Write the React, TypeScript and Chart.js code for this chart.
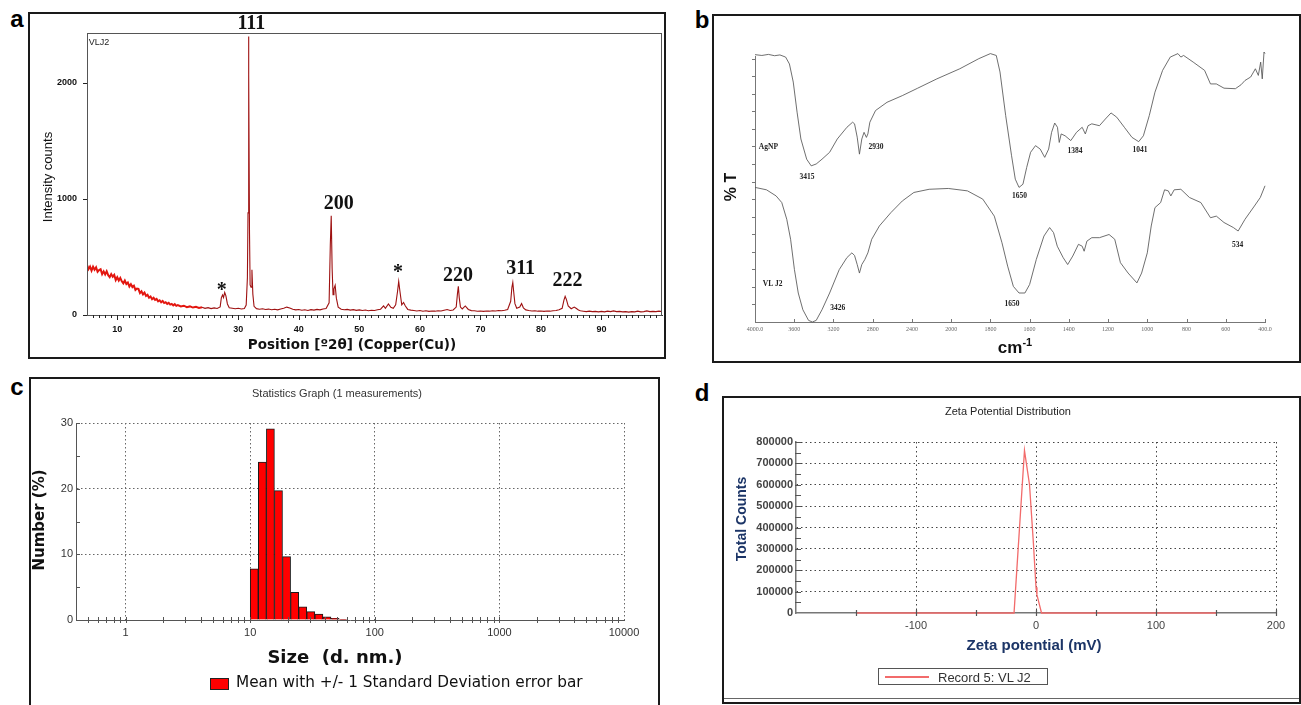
import React, { useEffect, useRef } from 'react';
import { Chart, registerables } from 'chart.js';

Chart.register(...registerables);

const SANS = '"Liberation Sans", Arial, Helvetica, sans-serif';
const SERIF = '"Liberation Serif", "Times New Roman", Times, serif';
const VERD = '"DejaVu Sans", Verdana, sans-serif';

// ---------------- (a) XRD pattern ----------------
const xrdLowAngle: [number, number][] = [
  [5.0, 432], [5.25, 395], [5.5, 417], [5.75, 382], [6.0, 416], [6.25, 390], [6.5, 411], [6.75, 372],
  [7.0, 387], [7.25, 395], [7.5, 352], [7.75, 376], [8.0, 350], [8.25, 377], [8.5, 343], [8.75, 326],
  [9.0, 353], [9.25, 330], [9.5, 346], [9.75, 301], [10.0, 325], [10.25, 297], [10.5, 320], [10.75, 290],
  [11.0, 273], [11.25, 297], [11.5, 267], [11.75, 280], [12.0, 246], [12.25, 266], [12.5, 241], [12.75, 253],
  [13.0, 216], [13.25, 228], [13.5, 225], [13.75, 189], [14.0, 204], [14.25, 177], [14.5, 193], [14.75, 164],
  [15.0, 174], [15.25, 149], [15.5, 159], [15.75, 136], [16.0, 148], [16.25, 130], [16.5, 139], [16.75, 118],
  [17.0, 127], [17.25, 110], [17.5, 121], [17.75, 103], [18.0, 110], [18.25, 96], [18.5, 105], [18.75, 90],
  [19.0, 96], [19.25, 83], [19.5, 93], [19.75, 79], [20.0, 86],
];
const xrdHighAngle: [number, number][] = [
  [20.5, 74], [21, 80], [21.5, 68], [22, 74], [22.5, 64], [23, 70], [23.5, 60], [24, 66], [24.5, 57], [25, 63],
  [25.5, 55], [26, 61], [26.5, 56], [27.0, 70], [27.2, 150], [27.4, 172], [27.55, 150], [27.75, 195], [27.95, 165],
  [28.2, 95], [28.5, 62], [29, 58], [29.5, 54], [30, 58], [30.5, 52], [31, 56], [31.3, 85], [31.5, 320], [31.6, 880],
  [31.68, 2400], [31.75, 2070], [31.85, 700], [31.95, 260], [32.1, 240], [32.25, 390], [32.4, 180], [32.6, 75],
  [33, 55], [33.5, 50], [34, 54], [34.5, 47], [35, 51], [35.5, 45], [36, 50], [36.5, 44], [37, 52], [37.5, 58],
  [38, 68], [38.5, 60], [39, 50], [39.5, 44], [40, 47], [40.5, 41], [41, 45], [41.5, 39], [42, 46], [42.5, 42],
  [43, 48], [43.5, 44], [44, 52], [44.5, 56], [45.0, 105], [45.2, 610], [45.35, 855], [45.5, 400], [45.65, 175],
  [45.8, 225], [46.0, 255], [46.2, 145], [46.5, 68], [47, 50], [47.5, 45], [48, 48], [48.5, 42], [49, 46],
  [49.5, 40], [50, 44], [50.5, 39], [51, 43], [51.5, 37], [52, 41], [52.5, 39], [53, 45], [53.5, 50], [54, 78],
  [54.3, 58], [54.8, 95], [55.2, 66], [55.6, 58], [56.0, 88], [56.3, 200], [56.5, 290], [56.7, 205], [57.0, 88],
  [57.3, 108], [57.6, 78], [58, 48], [58.5, 42], [59, 39], [59.5, 35], [60, 39], [60.5, 33], [61, 37], [61.5, 31],
  [62, 35], [62.5, 33], [63, 37], [63.5, 35], [64, 41], [64.5, 47], [65, 39], [65.5, 43], [66.0, 68], [66.2, 180],
  [66.35, 248], [66.5, 150], [66.7, 68], [67, 52], [67.5, 78], [68, 48], [68.5, 38], [69, 36], [69.5, 32], [70, 35],
  [70.5, 31], [71, 35], [71.5, 33], [72, 37], [72.5, 35], [73, 39], [73.5, 37], [74, 41], [74.5, 48], [75.0, 118],
  [75.2, 238], [75.35, 280], [75.5, 198], [75.7, 98], [76, 58], [76.5, 68], [76.8, 98], [77.1, 62], [77.5, 44],
  [78, 39], [78.5, 35], [79, 37], [79.5, 33], [80, 35], [80.5, 31], [81, 35], [81.5, 33], [82, 37], [82.5, 39],
  [83, 46], [83.5, 58], [83.8, 128], [84.0, 160], [84.2, 135], [84.5, 78], [85, 54], [85.5, 68], [85.8, 58],
  [86.2, 44], [86.5, 37], [87, 33], [87.5, 29], [88, 33], [88.5, 29], [89, 31], [89.5, 27], [90, 31], [90.5, 27],
  [91, 33], [91.5, 29], [92, 35], [92.5, 29], [93, 31], [93.5, 27], [94, 29], [94.5, 25], [95, 29], [95.5, 27],
  [96, 33], [96.5, 27], [97, 29], [97.5, 35], [98, 29], [98.5, 31], [99, 29], [99.5, 33], [100, 29],
];
const xrdThetaLabels = [10, 20, 30, 40, 50, 60, 70, 80, 90];
const xrdCountLabels = [0, 1000, 2000];
const xrdMinorTheta = Array.from({ length: 95 }, (_, i) => i + 5).filter((v) => v % 10 !== 0 && v > 5);
const xrdPeakText = ['111', '200', '*', '*', '220', '311', '222'];
const xrdPeakTheta = [32.15, 46.6, 27.25, 56.4, 66.3, 76.65, 84.4];
const xrdPeakCounts = [2507, 957, 207, 362, 338, 398, 291];

// ---------------- (b) FTIR ----------------
const ftirTickLabels = ['4000.0', '3600', '3200', '2800', '2400', '2000', '1800', '1600', '1400', '1200', '1000', '800', '600', '400.0'];
const agnpWavenumber = [4000, 3930, 3863, 3800, 3746, 3688, 3649, 3610, 3571, 3532, 3473, 3427, 3376, 3317, 3239, 3161, 3063, 3005, 2985, 2958, 2935, 2911, 2888, 2864, 2849, 2829, 2771, 2654, 2498, 2341, 2146, 1956, 1859, 1800, 1770, 1751, 1722, 1692, 1673, 1654, 1634, 1615, 1595, 1570, 1546, 1523, 1503, 1488, 1472, 1458, 1449, 1439, 1419, 1390, 1361, 1332, 1316, 1302, 1283, 1244, 1214, 1185, 1156, 1117, 1078, 1044, 1020, 990, 961, 922, 883, 844, 829, 815, 766, 708, 678, 648, 609, 551, 522, 502, 473, 449, 434, 422, 414, 405, 400];
const agnpTransmittance = [100.5, 100.2, 100.6, 100.1, 100.4, 99.6, 97, 90.2, 78.9, 68.8, 61.2, 58.7, 59.4, 61.2, 63.8, 68.8, 73.2, 75.1, 74.5, 69.5, 63.1, 68.8, 71.3, 69.4, 70.7, 75.1, 79.5, 82.6, 85.1, 87.9, 91.4, 95.2, 99, 100.9, 100.2, 94, 77.6, 62.5, 53.7, 50.6, 51.8, 58.1, 63.8, 66.3, 65, 61.9, 65, 71.3, 74.8, 73.2, 67.5, 70.7, 70, 68.2, 71.3, 73.2, 70.7, 73.8, 74.5, 73.8, 76.3, 78.6, 77, 73.2, 69.4, 67.8, 70, 77.6, 86.4, 94.6, 99.6, 100.9, 99.6, 100.2, 97.7, 94.6, 89.5, 89.5, 87.9, 87.7, 89.2, 90.8, 92.1, 95.2, 92.7, 97.7, 91.4, 101.5, 100.9];
const vlj2Wavenumber = [4000, 3883, 3785, 3727, 3676, 3637, 3598, 3559, 3512, 3454, 3415, 3376, 3317, 3239, 3141, 3063, 3012, 2985, 2958, 2935, 2911, 2880, 2849, 2810, 2732, 2615, 2498, 2380, 2224, 2029, 1917, 1839, 1780, 1741, 1712, 1683, 1654, 1624, 1600, 1566, 1527, 1498, 1478, 1459, 1429, 1406, 1380, 1351, 1332, 1322, 1308, 1283, 1244, 1195, 1166, 1137, 1098, 1053, 1029, 1000, 980, 961, 932, 912, 893, 880, 863, 829, 785, 727, 678, 648, 609, 561, 537, 502, 454, 424, 400];
const vlj2Transmittance = [50.6, 49.7, 47.4, 44.9, 38.6, 31.1, 19.7, 10.9, 4.6, 0.6, 0, 0.6, 4.6, 10.9, 19.7, 24.2, 26, 25, 21.6, 18.4, 21.6, 23.5, 26, 31.1, 36.1, 41.1, 45.5, 48.7, 49.9, 50.2, 49.3, 46.2, 39.8, 29.8, 21, 13.4, 10.9, 10.9, 14.1, 23.5, 32.3, 35.5, 33.6, 28.5, 24.2, 21.6, 24.8, 29.2, 28.5, 26.6, 30.4, 31.7, 31.7, 32.9, 31.1, 22.3, 18.4, 14.7, 18.4, 26, 36.1, 43, 44.9, 49.7, 49.3, 47.4, 49.7, 49.9, 46.8, 44.9, 39.2, 39.8, 37.4, 35.5, 34.2, 38.6, 43.6, 46.8, 51.2];
const ftirPeakText = ['AgNP', '3415', '2930', '1650', '1384', '1041', 'VL J2', '3426', '1650', '534'];
const ftirPeakWn = [3863, 3470, 2766, 1652, 1369, 1037, 3820, 3156, 1690, 540];
const ftirPeakT = [65.9, 54.6, 65.7, 47.4, 64.4, 64.7, 14.2, 5.2, 6.8, 28.9];
const ftirYTicks = [6.6, 13.2, 19.8, 26.4, 33, 39.6, 46.2, 52.8, 59.4, 66, 72.6, 79.2, 85.8, 92.4, 99];

// ---------------- (c) DLS size ----------------
const dlsSizeNm = [10.78, 12.52, 14.53, 16.87, 19.59, 22.74, 26.4, 30.65, 35.6, 41.3, 48.0, 55.7];
const dlsNumberPct = [7.8, 24.05, 29.1, 19.7, 9.66, 4.2, 2.0, 1.27, 0.9, 0.5, 0.25, 0.1];
const dlsDecades = [1, 10, 100, 1000, 10000];
const dlsPctLabels = [0, 10, 20, 30];
const dlsPctMinor = [5, 10, 15, 20, 25, 30];
const dlsMinorSizes = [0.5, 0.6, 0.7, 0.8, 0.9, 1, 2, 3, 4, 5, 6, 7, 8, 9, 10, 20, 30, 40, 50, 60, 70, 80, 90, 100, 200, 300, 400, 500, 600, 700, 800, 900, 1000, 2000, 3000, 4000, 5000, 6000, 7000, 8000, 9000];

// ---------------- (d) Zeta potential ----------------
const zetaMv = [-150, -18.3, -9.6, -5.4, -2.2, 0, 0.8, 4.6, 150];
const zetaCounts = [0, 0, 760000, 600000, 330000, 120000, 85000, 0, 0];
const zetaMvLabels = [-200, -100, 0, 100, 200];
const zetaMvMinor = [-150, -100, -50, 0, 50, 100, 150, 200];
const zetaCountLabels = [0, 100000, 200000, 300000, 400000, 500000, 600000, 700000, 800000];
const zetaCountMinor = [50000, 100000, 150000, 200000, 250000, 300000, 350000, 400000, 450000, 500000, 550000, 600000, 650000, 700000, 750000, 800000];

// ---------------- helpers ----------------
const wnToPos = (wn: number) => (wn >= 2000 ? (4000 - wn) / 400 : 5 + (2000 - wn) / 200);

type TickSpec = { axis: 'x' | 'y'; values: number[]; inner: number; outer: number; color: string; width?: number };
function tickMarks(specs: TickSpec[]) {
  return {
    id: 'tickMarks',
    afterDraw(chart: any) {
      const { ctx, chartArea: a, scales } = chart;
      ctx.save();
      specs.forEach((s) => {
        ctx.strokeStyle = s.color;
        ctx.lineWidth = s.width ?? 1;
        ctx.beginPath();
        s.values.forEach((v) => {
          if (s.axis === 'x') {
            const p = Math.round(scales.x.getPixelForValue(v)) + 0.5;
            ctx.moveTo(p, a.bottom - s.inner);
            ctx.lineTo(p, a.bottom + s.outer);
          } else {
            const p = Math.round(scales.y.getPixelForValue(v)) + 0.5;
            ctx.moveTo(a.left - s.outer, p);
            ctx.lineTo(a.left + s.inner, p);
          }
        });
        ctx.stroke();
      });
      ctx.restore();
    },
  };
}

function dataText(texts: string[], xs: number[], ys: number[], font: string, color: string) {
  return {
    id: 'dataText',
    afterDatasetsDraw(chart: any) {
      const { ctx, scales } = chart;
      ctx.save();
      ctx.font = font;
      ctx.fillStyle = color;
      ctx.textAlign = 'center';
      ctx.textBaseline = 'middle';
      texts.forEach((t, i) => ctx.fillText(t, scales.x.getPixelForValue(xs[i]), scales.y.getPixelForValue(ys[i])));
      ctx.restore();
    },
  };
}

function frame(color: string) {
  return {
    id: 'frame',
    afterDraw(chart: any) {
      const { ctx, chartArea: a } = chart;
      ctx.save();
      ctx.strokeStyle = color;
      ctx.lineWidth = 1;
      ctx.strokeRect(Math.round(a.left) + 0.5, Math.round(a.top) + 0.5, Math.round(a.right - a.left) - 1, Math.round(a.bottom - a.top));
      ctx.restore();
    },
  };
}

const base = {
  animation: false,
  responsive: false,
  maintainAspectRatio: false,
  events: [],
  plugins: { legend: { display: false }, tooltip: { enabled: false }, title: { display: false } },
};

function buildXrd(canvas: HTMLCanvasElement) {
  const pts = [...xrdLowAngle, ...xrdHighAngle].map(([x, y]) => ({ x, y }));
  return new Chart(canvas, {
    type: 'line',
    data: {
      datasets: [{
        data: pts, borderColor: '#9e1111', borderWidth: 1.1, pointRadius: 0, tension: 0, fill: false,
        segment: {
          borderColor: (c: any) => (c.p0.parsed.x < 24 ? '#e3160f' : '#9e1111'),
          borderWidth: (c: any) => (c.p0.parsed.x < 24 ? 2 : 1.1),
        },
      }],
    },
    options: {
      ...base,
      layout: { padding: { left: 0, top: 19, right: 2, bottom: 0 } },
      scales: {
        x: {
          type: 'linear', min: 5, max: 100,
          afterFit: (s: any) => { s.height = 42; },
          afterBuildTicks: (s: any) => { s.ticks = xrdThetaLabels.map((value) => ({ value })); },
          ticks: { autoSkip: false, maxRotation: 0, padding: 9, color: '#111', font: { family: SANS, size: 9, weight: 'bold' }, callback: (v: any) => String(v) },
          grid: { display: false, drawTicks: false },
          border: { display: true, color: '#333', width: 1 },
        },
        y: {
          type: 'linear', min: 0, max: 2430,
          afterFit: (s: any) => { s.width = 57; },
          afterBuildTicks: (s: any) => { s.ticks = xrdCountLabels.map((value) => ({ value })); },
          ticks: { padding: 10, color: '#111', font: { family: SANS, size: 9, weight: 'bold' }, callback: (v: any) => String(v) },
          grid: { display: false, drawTicks: false },
          border: { display: true, color: '#333', width: 1 },
        },
      },
    },
    plugins: [
      frame('#555'),
      tickMarks([
        { axis: 'x', values: xrdMinorTheta, inner: 0, outer: 3, color: '#222' },
        { axis: 'x', values: xrdThetaLabels, inner: 0, outer: 5, color: '#222' },
        { axis: 'y', values: xrdCountLabels, inner: 0, outer: 4, color: '#222' },
      ]),
      dataText(xrdPeakText, xrdPeakTheta, xrdPeakCounts, `bold 20px ${SERIF}`, '#111'),
    ],
  } as any);
}

function buildFtir(canvas: HTMLCanvasElement) {
  const agnp = agnpWavenumber.map((wn, i) => ({ x: wnToPos(wn), y: agnpTransmittance[i] }));
  const vlj2 = vlj2Wavenumber.map((wn, i) => ({ x: wnToPos(wn), y: vlj2Transmittance[i] }));
  const line = { borderColor: '#555', borderWidth: 0.85, pointRadius: 0, tension: 0, fill: false, clip: false };
  return new Chart(canvas, {
    type: 'line',
    data: { datasets: [{ ...line, data: agnp }, { ...line, data: vlj2 }] },
    options: {
      ...base,
      layout: { padding: { left: 0, top: 40, right: 34, bottom: 0 } },
      scales: {
        x: {
          type: 'linear', min: 0, max: 13,
          afterFit: (s: any) => { s.height = 39; },
          afterBuildTicks: (s: any) => { s.ticks = ftirTickLabels.map((_, i) => ({ value: i })); },
          ticks: { autoSkip: false, maxRotation: 0, padding: 4, color: '#666', font: { family: SERIF, size: 6 }, callback: (v: any) => ftirTickLabels[Math.round(v)] ?? '' },
          grid: { display: false, drawTicks: false },
          border: { display: true, color: '#777', width: 1 },
        },
        y: {
          type: 'linear', min: 0, max: 100,
          afterFit: (s: any) => { s.width = 41; },
          ticks: { display: false },
          grid: { display: false, drawTicks: false },
          border: { display: true, color: '#777', width: 1 },
        },
      },
    },
    plugins: [
      tickMarks([
        { axis: 'x', values: ftirTickLabels.map((_, i) => i), inner: 3, outer: 0, color: '#777' },
        { axis: 'y', values: ftirYTicks, inner: 0, outer: 3, color: '#777' },
      ]),
      dataText(ftirPeakText, ftirPeakWn.map(wnToPos), ftirPeakT, `bold 7.5px ${SERIF}`, '#222'),
    ],
  } as any);
}

function buildDls(canvas: HTMLCanvasElement) {
  const dotted = (ctx: any) => (ctx.tick && ctx.tick.value === 0 ? 'rgba(0,0,0,0)' : '#666');
  return new Chart(canvas, {
    type: 'bar',
    data: {
      datasets: [{
        data: dlsSizeNm.map((x, i) => ({ x, y: dlsNumberPct[i] })),
        backgroundColor: '#ff0000', borderColor: '#1a1a1a', borderWidth: 1,
        barPercentage: 1, categoryPercentage: 1,
      }],
    },
    options: {
      ...base,
      layout: { padding: { left: 0, top: 44, right: 34, bottom: 0 } },
      scales: {
        x: {
          type: 'logarithmic', min: 0.4, max: 10000, offset: false,
          afterFit: (s: any) => { s.height = 85; },
          afterBuildTicks: (s: any) => { s.ticks = dlsDecades.map((value) => ({ value })); },
          ticks: { autoSkip: false, maxRotation: 0, padding: 6, color: '#333', font: { family: SANS, size: 11 }, callback: (v: any) => String(v) },
          grid: { display: true, drawTicks: false, offset: false, color: '#666', lineWidth: 1 },
          border: { display: true, color: '#555', width: 1, dash: [1.5, 2.5] },
        },
        y: {
          type: 'linear', min: 0, max: 30,
          afterFit: (s: any) => { s.width = 45; },
          afterBuildTicks: (s: any) => { s.ticks = dlsPctLabels.map((value) => ({ value })); },
          ticks: { padding: 3, color: '#333', font: { family: SANS, size: 11 }, callback: (v: any) => String(v) },
          grid: { display: true, drawTicks: false, color: dotted, lineWidth: 1 },
          border: { display: true, color: '#555', width: 1, dash: [1.5, 2.5] },
        },
      },
    },
    plugins: [
      tickMarks([
        { axis: 'x', values: dlsMinorSizes, inner: 3, outer: 3, color: '#555' },
        { axis: 'y', values: dlsPctMinor, inner: 4, outer: 0, color: '#555' },
      ]),
    ],
  } as any);
}

function buildZeta(canvas: HTMLCanvasElement) {
  return new Chart(canvas, {
    type: 'line',
    data: {
      datasets: [{
        data: zetaMv.map((x, i) => ({ x, y: zetaCounts[i] })),
        borderColor: '#f26b6b', borderWidth: 1.3, pointRadius: 0, tension: 0, fill: false, clip: false,
      }],
    },
    options: {
      ...base,
      layout: { padding: { left: 0, top: 44, right: 23, bottom: 0 } },
      scales: {
        x: {
          type: 'linear', min: -200, max: 200,
          afterFit: (s: any) => { s.height = 83; },
          afterBuildTicks: (s: any) => { s.ticks = zetaMvLabels.map((value) => ({ value })); },
          ticks: { autoSkip: false, maxRotation: 0, padding: 6, color: '#444', font: { family: SANS, size: 11 }, callback: (v: any) => (v === -200 ? '' : String(v)) },
          grid: { display: true, drawTicks: false, color: (c: any) => (c.tick && c.tick.value === -200 ? 'rgba(0,0,0,0)' : '#444'), lineWidth: 1 },
          border: { display: true, color: '#777', width: 1.5, dash: [1.5, 3] },
        },
        y: {
          type: 'linear', min: 0, max: 800000,
          afterFit: (s: any) => { s.width = 72; },
          afterBuildTicks: (s: any) => { s.ticks = zetaCountLabels.map((value) => ({ value })); },
          ticks: { padding: 3, color: '#444', font: { family: SANS, size: 11, weight: 'bold' }, callback: (v: any) => String(v) },
          grid: { display: true, drawTicks: false, color: (c: any) => (c.tick && c.tick.value === 0 ? 'rgba(0,0,0,0)' : '#444'), lineWidth: 1 },
          border: { display: true, color: '#777', width: 1.5, dash: [1.5, 3] },
        },
      },
    },
    plugins: [
      tickMarks([
        { axis: 'x', values: zetaMvMinor, inner: 3, outer: 3, color: '#555', width: 1.2 },
        { axis: 'y', values: zetaCountMinor, inner: 5, outer: 1, color: '#555', width: 1.2 },
      ]),
    ],
  } as any);
}

// ---------------- layout ----------------
const boxStyle = (left: number, top: number, width: number, height: number): React.CSSProperties => ({
  position: 'absolute', left, top, width, height, border: '2px solid #1a1a1a', boxSizing: 'border-box',
});
const canvasStyle = (left: number, top: number, width: number, height: number): React.CSSProperties => ({
  position: 'absolute', left, top, width, height,
});

function Txt(props: { x: number; y: number; rotate?: boolean; style?: React.CSSProperties; children: React.ReactNode }) {
  return (
    <div
      style={{
        position: 'absolute', left: props.x, top: props.y, whiteSpace: 'nowrap', lineHeight: 1,
        transform: `translate(-50%, -50%)${props.rotate ? ' rotate(-90deg)' : ''}`,
        ...props.style,
      }}
    >
      {props.children}
    </div>
  );
}

export default function App() {
  const aRef = useRef<HTMLCanvasElement>(null);
  const bRef = useRef<HTMLCanvasElement>(null);
  const cRef = useRef<HTMLCanvasElement>(null);
  const dRef = useRef<HTMLCanvasElement>(null);

  useEffect(() => {
    const charts: Chart[] = [];
    if (aRef.current) charts.push(buildXrd(aRef.current));
    if (bRef.current) charts.push(buildFtir(bRef.current));
    if (cRef.current) charts.push(buildDls(cRef.current));
    if (dRef.current) charts.push(buildZeta(dRef.current));
    return () => charts.forEach((c) => c.destroy());
  }, []);

  const letter: React.CSSProperties = { fontFamily: SANS, fontWeight: 'bold', fontSize: 24, color: '#000' };

  return (
    <div style={{ position: 'absolute', left: 0, top: 0, width: 1301, height: 705, background: '#fff', overflow: 'hidden', fontFamily: SANS, color: '#000' }}>
      {/* panel frames */}
      <div style={boxStyle(28, 12, 638, 347)} />
      <div style={boxStyle(712, 14, 589, 349)} />
      <div style={boxStyle(29, 377, 631, 340)} />
      <div style={boxStyle(722, 396, 579, 308)} />
      <div style={{ position: 'absolute', left: 724, top: 698, width: 575, height: 1, background: '#666' }} />

      {/* panel letters */}
      <Txt x={17} y={19} style={letter}>a</Txt>
      <Txt x={702} y={20} style={letter}>b</Txt>
      <Txt x={17} y={387} style={letter}>c</Txt>
      <Txt x={702} y={393} style={letter}>d</Txt>

      {/* canvases */}
      <canvas ref={aRef} width={634} height={343} style={canvasStyle(30, 14, 634, 343)} />
      <canvas ref={bRef} width={585} height={345} style={canvasStyle(714, 16, 585, 345)} />
      <canvas ref={cRef} width={627} height={326} style={canvasStyle(31, 379, 627, 326)} />
      <canvas ref={dRef} width={575} height={298} style={canvasStyle(724, 398, 575, 298)} />

      {/* (a) texts */}
      <Txt x={99} y={42} style={{ fontSize: 9, color: '#222' }}>VLJ2</Txt>
      <Txt x={47} y={177} rotate style={{ fontSize: 13, color: '#111' }}>Intensity counts</Txt>
      <Txt x={352} y={345} style={{ fontFamily: VERD, fontWeight: 'bold', fontSize: 13.5, color: '#111' }}>Position [º2θ] (Copper(Cu))</Txt>

      {/* (b) texts */}
      <Txt x={731} y={187} rotate style={{ fontWeight: 'bold', fontSize: 16, color: '#111' }}>% T</Txt>
      <Txt x={1015} y={347} style={{ fontWeight: 'bold', fontSize: 17, color: '#111' }}>
        cm<sup style={{ fontSize: 11, verticalAlign: 'super', lineHeight: 0 }}>-1</sup>
      </Txt>

      {/* (c) texts */}
      <Txt x={337} y={393} style={{ fontSize: 11, color: '#333' }}>Statistics Graph (1 measurements)</Txt>
      <Txt x={39} y={520} rotate style={{ fontFamily: VERD, fontWeight: 'bold', fontSize: 15, color: '#111' }}>Number (%)</Txt>
      <Txt x={335} y={657} style={{ fontFamily: VERD, fontWeight: 'bold', fontSize: 18, color: '#111' }}>Size&nbsp; (d. nm.)</Txt>
      <div style={{ position: 'absolute', left: 210, top: 678, width: 19, height: 12, background: '#ff0000', border: '1px solid #222', boxSizing: 'border-box' }} />
      <div style={{ position: 'absolute', left: 236, top: 683, transform: 'translateY(-50%)', whiteSpace: 'nowrap', lineHeight: 1, fontFamily: VERD, fontSize: 15.3, color: '#111' }}>
        Mean with +/- 1 Standard Deviation error bar
      </div>

      {/* (d) texts */}
      <Txt x={1008} y={411} style={{ fontSize: 11, color: '#222' }}>Zeta Potential Distribution</Txt>
      <Txt x={741} y={519} rotate style={{ fontWeight: 'bold', fontSize: 14, color: '#1c3567' }}>Total Counts</Txt>
      <Txt x={1034} y={644} style={{ fontWeight: 'bold', fontSize: 15, color: '#1c3567' }}>Zeta potential (mV)</Txt>
      <div style={{ position: 'absolute', left: 878, top: 668, width: 170, height: 17, border: '1px solid #555', boxSizing: 'border-box', background: '#fff' }} />
      <div style={{ position: 'absolute', left: 885, top: 676, width: 44, height: 1.5, background: '#f26b6b' }} />
      <div style={{ position: 'absolute', left: 938, top: 676.5, transform: 'translateY(-50%)', whiteSpace: 'nowrap', lineHeight: 1, fontSize: 13, color: '#333' }}>
        Record 5: VL J2
      </div>
    </div>
  );
}
